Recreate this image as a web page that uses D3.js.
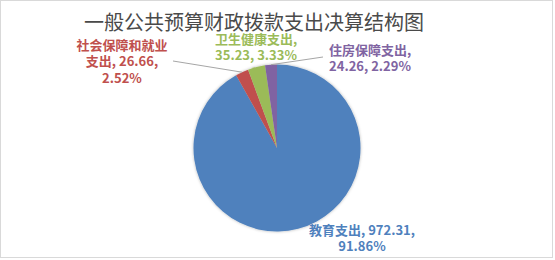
<!DOCTYPE html>
<html lang="zh">

<head>
  <meta charset="UTF-8">
  <script src="https://cdn.jsdelivr.net/npm/d3@7"></script>
  <title>一般公共预算财政拨款支出决算结构图</title>
  <style>
    body {
      margin: 0;
      background: #fff;
    }

    text {
      font-family: "Noto Sans CJK SC", "Noto Sans", sans-serif;
    }
  </style>
</head>

<body>
  <div class="fig"></div>
  <script>
    /*------------------- data --------------------*/
    const categories = ["教育支出", "社会保障和就业支出", "卫生健康支出", "住房保障支出"];
    const values = [972.31, 26.66, 35.23, 24.26];
    const percentLabels = ["91.86%", "2.52%", "3.33%", "2.29%"];
    const colors = ["#4F81BD", "#C0504D", "#9BBB59", "#8064A2"];

    /*------------------- layout --------------------*/
    const width = 555, height = 260;
    const cx = 277, cy = 148, radius = 83.5;

    // label lines and anchor points for each slice
    const labelLayout = [
      { x: 362, y: 230, lines: d => [d.name + ", " + d.value + ",", d.pct], line: false },
      { x: 122, y: 45, lines: d => ["社会保障和就业", "支出, " + d.value + ",", d.pct], line: true, end: [173, 61] },
      { x: 256, y: 39, lines: d => [d.name + ",", d.value + ", " + d.pct], line: false },
      { x: 370, y: 50, lines: d => [d.name + ",", d.value + ", " + d.pct], line: true, end: [323, 57] }
    ];

    const svg = d3.select(".fig").append("svg")
      .attr("width", width)
      .attr("height", height);

    // chart border
    svg.append("rect")
      .attr("x", 0.5).attr("y", 0.5)
      .attr("width", width - 3).attr("height", height - 3)
      .attr("fill", "#fff")
      .attr("stroke", "#d9d9d9");

    // soft shadow under the pie
    const defs = svg.append("defs");
    const f = defs.append("filter").attr("id", "shadow")
      .attr("x", "-20%").attr("y", "-20%").attr("width", "140%").attr("height", "140%");
    f.append("feDropShadow")
      .attr("dx", 0).attr("dy", 0).attr("stdDeviation", 1.5)
      .attr("flood-color", "#000").attr("flood-opacity", 0.3);

    // title
    svg.append("text")
      .attr("x", 254).attr("y", 30)
      .attr("text-anchor", "middle")
      .attr("font-size", 20)
      .attr("fill", "#4a4a4a")
      .text("一般公共预算财政拨款支出决算结构图");

    const data = categories.map((c, i) => ({ name: c, value: values[i], pct: percentLabels[i], color: colors[i] }));

    const pie = d3.pie().value(d => d.value).sort(null);
    const arcs = pie(data);
    const arc = d3.arc().innerRadius(0).outerRadius(radius);
    const edge = d3.arc().innerRadius(radius).outerRadius(radius);

    const g = svg.append("g").attr("transform", `translate(${cx},${cy})`);

    g.append("g").attr("filter", "url(#shadow)")
      .selectAll("path")
      .data(arcs)
      .enter()
      .append("path")
      .attr("d", arc)
      .attr("fill", d => d.data.color);

    // leader lines
    arcs.forEach((a, i) => {
      const lay = labelLayout[i];
      if (!lay.line) return;
      const p = edge.centroid(a);
      svg.append("line")
        .attr("x1", cx + p[0]).attr("y1", cy + p[1])
        .attr("x2", lay.end[0]).attr("y2", lay.end[1])
        .attr("stroke", "#a6a6a6")
        .attr("stroke-width", 1);
    });

    // data labels
    arcs.forEach((a, i) => {
      const lay = labelLayout[i];
      const t = svg.append("text")
        .attr("text-anchor", "middle")
        .attr("font-size", 13)
        .attr("font-weight", "bold")
        .attr("fill", a.data.color);
      lay.lines(a.data).forEach((s, k) => {
        t.append("tspan")
          .attr("x", lay.x)
          .attr("y", lay.y + 4.5 + k * 16.5)
          .text(s);
      });
    });
  </script>
</body>

</html>
